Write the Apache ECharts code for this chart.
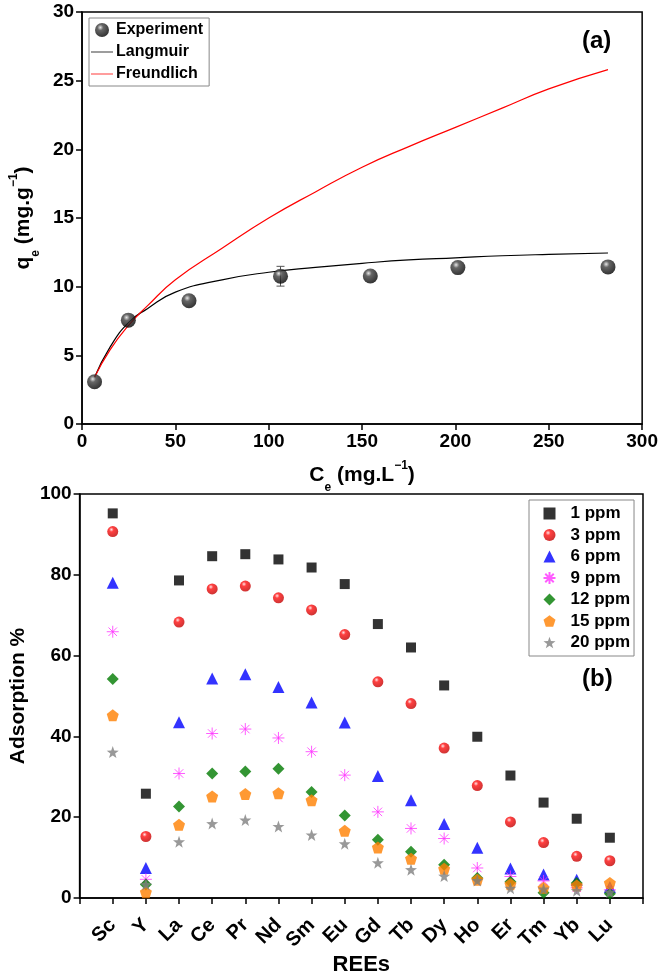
<!DOCTYPE html>
<html>
<head>
<meta charset="utf-8">
<title>Adsorption isotherms and REE adsorption</title>
<script src="https://cdn.jsdelivr.net/npm/echarts@6/dist/echarts.min.js"></script>
<style>
  html, body { margin: 0; padding: 0; background: #fff; }
  #main { width: 661px; height: 977px; }
</style>
</head>
<body>
<div id="main"></div>
<script>
// ---- (a) isotherm data ----
var ceExp = [6.7, 24.8, 57.3, 106.3, 154.4, 201.3, 281.7];
var qeExp = [3.08, 7.56, 8.97, 10.76, 10.78, 11.39, 11.44];
var errBar = [[106.3, 10.04, 11.48]];   // Ce, low, high
var ceFit = [6.7, 15, 25, 35, 50, 75, 100, 125, 150, 175, 200, 225, 250, 281.7];
var langmuir = [3.4, 5.6, 7.4, 8.4, 9.6, 10.5, 11.05, 11.4, 11.7, 11.95, 12.1, 12.25, 12.35, 12.45];
var freundlich = [3.4, 5.4, 7.2, 8.6, 10.5, 12.8, 15.0, 16.9, 18.7, 20.2, 21.6, 23.0, 24.4, 25.8];

// ---- (b) adsorption % per REE ----
var rees = ['Sc', 'Y', 'La', 'Ce', 'Pr', 'Nd', 'Sm', 'Eu', 'Gd', 'Tb', 'Dy', 'Ho', 'Er', 'Tm', 'Yb', 'Lu'];
var ppm1  = [95.2, 25.8, 78.6, 84.6, 85.1, 83.8, 81.8, 77.7, 67.8, 62.0, 52.6, 39.9, 30.3, 23.6, 19.6, 14.9];
var ppm3  = [90.7, 15.2, 68.3, 76.5, 77.2, 74.3, 71.3, 65.2, 53.5, 48.1, 37.1, 27.8, 18.8, 13.7, 10.3, 9.2];
var ppm6  = [78.0, 7.4, 43.5, 54.3, 55.4, 52.2, 48.4, 43.4, 30.2, 24.2, 18.3, 12.4, 7.3, 5.8, 4.5, 2.7];
var ppm9  = [65.9, 4.6, 30.8, 40.7, 41.8, 39.6, 36.2, 30.4, 21.3, 17.2, 14.7, 7.4, 5.3, 4.2, 2.5, 2.0];
var ppm12 = [54.2, 3.3, 22.6, 30.8, 31.3, 32.0, 26.2, 20.4, 14.4, 11.4, 8.2, 4.9, 4.0, 1.3, 3.7, 1.0];
var ppm15 = [45.2, 1.4, 18.1, 25.1, 25.7, 25.9, 24.2, 16.6, 12.5, 9.7, 7.2, 4.5, 3.4, 2.5, 3.1, 3.7];
var ppm20 = [36.1, 3.3, 13.9, 18.4, 19.3, 17.7, 15.6, 13.4, 8.7, 7.0, 5.4, 4.3, 2.4, 2.2, 1.8, 1.4];

var FONT = "'Liberation Sans', Arial, sans-serif";

function pairs(xs, ys) {
    return ys.map(function (v, i) { return [xs[i], v]; });
}
function reePts(vals) {
    return vals.map(function (v, i) { return [i + 1, v]; });
}
function sphere(light, mid, dark) {
    return {
        type: 'radial', x: 0.38, y: 0.32, r: 0.7,
        colorStops: [{ offset: 0, color: light }, { offset: 0.3, color: mid }, { offset: 1, color: dark }]
    };
}

var PENTAGON = 'path://M0,-10L9.51,-3.09L5.88,8.09L-5.88,8.09L-9.51,-3.09Z';
var STAR = 'path://M0,-10L2.35,-3.24L9.51,-3.09L3.8,1.24L5.88,8.09L0,4L-5.88,8.09L-3.8,1.24L-9.51,-3.09L-2.35,-3.24Z';
var ASTER = 'path://M0,-10L0,10M-10,0L10,0M-7.07,-7.07L7.07,7.07M-7.07,7.07L7.07,-7.07';
var LINEICON = 'path://M0,0L40,0L40,1.4L0,1.4Z';

var axisLine = { show: true, onZero: false, lineStyle: { color: '#000', width: 1.5 } };
var axisTick = { show: true, inside: false, length: 6, lineStyle: { color: '#000', width: 1.5 } };
var tickLabel = { color: '#000', fontWeight: 'bold', fontSize: 19, fontFamily: FONT };
var nameRich = {
    b: { fontSize: 21, fontWeight: 'bold', fontFamily: FONT, color: '#000', lineHeight: 26 },
    sub: { fontSize: 12, fontWeight: 'bold', fontFamily: FONT, color: '#000', verticalAlign: 'bottom', lineHeight: 12, padding: [0, 0, -6, 0] },
    sup: { fontSize: 12, fontWeight: 'bold', fontFamily: FONT, color: '#000', verticalAlign: 'top', lineHeight: 12, padding: [-2, 0, 0, 0] }
};

var myChart = echarts.init(document.getElementById('main'));

var option = {
    backgroundColor: '#fff',
    animation: false,
    grid: [
        { left: 77, right: 18, top: 12, height: 412, show: true, borderColor: '#000', borderWidth: 1.5 },
        { left: 77, right: 18, top: 494, height: 414, show: true, borderColor: '#000', borderWidth: 1.5 }
    ],
    legend: [
        {
            data: [
                { name: 'Experiment' },
                { name: 'Langmuir', icon: LINEICON, itemStyle: { color: '#000' } },
                { name: 'Freundlich', icon: LINEICON, itemStyle: { color: '#ff0000' } }
            ],
            left: 89, top: 18, orient: 'vertical',
            itemWidth: 22, itemHeight: 14, itemGap: 6,
            padding: [4, 6, 4, 2],
            borderColor: '#888', borderWidth: 1,
            textStyle: { color: '#000', fontWeight: 'bold', fontSize: 16, fontFamily: FONT, padding: [0, 0, 0, -2] }
        },
        {
            data: ['1 ppm', '3 ppm', '6 ppm', '9 ppm', '12 ppm', '15 ppm', '20 ppm'],
            left: 529, top: 500, orient: 'vertical',
            itemWidth: 12, itemHeight: 12, itemGap: 4.5,
            padding: [5, 4, 5, 12],
            borderColor: '#888', borderWidth: 1,
            textStyle: { color: '#000', fontWeight: 'bold', fontSize: 17, fontFamily: FONT, padding: [0, 0, 0, 10] }
        }
    ],
    graphic: [
        { type: 'text', left: 582, top: 29, style: { text: '(a)', font: 'bold 24px ' + FONT, fill: '#000' } },
        { type: 'text', left: 582, top: 667, style: { text: '(b)', font: 'bold 24px ' + FONT, fill: '#000' } }
    ],
    xAxis: [
        {
            gridIndex: 0, type: 'value', min: 0, max: 300, interval: 50,
            axisLine: axisLine, axisTick: axisTick, splitLine: { show: false },
            axisLabel: Object.assign({ margin: 8 }, tickLabel),
            name: '{b|C}{sub|e}{b| (mg.L}{sup|−1}{b|)}',
            nameLocation: 'middle', nameGap: 38,
            nameTextStyle: { rich: nameRich }
        },
        {
            gridIndex: 1, type: 'value', min: 0, max: 17, interval: 1,
            axisLine: axisLine, axisTick: axisTick, splitLine: { show: false },
            axisLabel: Object.assign({}, tickLabel, {
                rotate: 45, margin: 24, fontSize: 20,
                formatter: function (v) { return rees[v - 1] || ''; }
            }),
            name: 'REEs', nameLocation: 'middle', nameGap: 56,
            nameTextStyle: { fontSize: 22, fontWeight: 'bold', fontFamily: FONT, color: '#000' }
        }
    ],
    yAxis: [
        {
            gridIndex: 0, type: 'value', min: 0, max: 30, interval: 5,
            axisLine: axisLine, axisTick: axisTick, splitLine: { show: false },
            axisLabel: Object.assign({ margin: 8 }, tickLabel),
            name: '{b|q}{sub|e}{b| (mg.g}{sup|−1}{b|)}',
            nameLocation: 'middle', nameGap: 46,
            nameTextStyle: { rich: nameRich }
        },
        {
            gridIndex: 1, type: 'value', min: 0, max: 100, interval: 20,
            axisLine: axisLine, axisTick: axisTick, splitLine: { show: false },
            axisLabel: Object.assign({ margin: 8 }, tickLabel),
            name: 'Adsorption %', nameLocation: 'middle', nameGap: 46,
            nameTextStyle: { fontSize: 21, fontWeight: 'bold', fontFamily: FONT, color: '#000' }
        }
    ],
    series: [
        {
            name: 'Langmuir', type: 'line', xAxisIndex: 0, yAxisIndex: 0,
            data: pairs(ceFit, langmuir), smooth: true, symbol: 'none',
            lineStyle: { color: '#000', width: 1.2 }, itemStyle: { color: '#000' }, z: 2
        },
        {
            name: 'Freundlich', type: 'line', xAxisIndex: 0, yAxisIndex: 0,
            data: pairs(ceFit, freundlich), smooth: true, symbol: 'none',
            lineStyle: { color: '#ff0000', width: 1.2 }, itemStyle: { color: '#ff0000' }, z: 2
        },
        {
            name: 'errbar', type: 'custom', xAxisIndex: 0, yAxisIndex: 0, data: errBar, z: 3,
            renderItem: function (params, api) {
                var lo = api.coord([api.value(0), api.value(1)]);
                var hi = api.coord([api.value(0), api.value(2)]);
                var st = { stroke: '#555', lineWidth: 1 };
                return {
                    type: 'group', children: [
                        { type: 'line', shape: { x1: lo[0], y1: lo[1], x2: hi[0], y2: hi[1] }, style: st },
                        { type: 'line', shape: { x1: lo[0] - 4, y1: lo[1], x2: lo[0] + 4, y2: lo[1] }, style: st },
                        { type: 'line', shape: { x1: hi[0] - 4, y1: hi[1], x2: hi[0] + 4, y2: hi[1] }, style: st }
                    ]
                };
            }
        },
        {
            name: 'Experiment', type: 'scatter', xAxisIndex: 0, yAxisIndex: 0,
            data: pairs(ceExp, qeExp), symbol: 'circle', symbolSize: 15, z: 5,
            itemStyle: { color: sphere('#e0e0e0', '#404040', '#000') }
        },
        {
            name: '1 ppm', type: 'scatter', xAxisIndex: 1, yAxisIndex: 1, data: reePts(ppm1),
            symbol: 'rect', symbolSize: 10, itemStyle: { color: '#000' }
        },
        {
            name: '3 ppm', type: 'scatter', xAxisIndex: 1, yAxisIndex: 1, data: reePts(ppm3),
            symbol: 'circle', symbolSize: 11, itemStyle: { color: sphere('#ffe0e0', '#ff1010', '#c00000') }
        },
        {
            name: '6 ppm', type: 'scatter', xAxisIndex: 1, yAxisIndex: 1, data: reePts(ppm6),
            symbol: 'triangle', symbolSize: 12, itemStyle: { color: '#0000ff' }
        },
        {
            name: '9 ppm', type: 'scatter', xAxisIndex: 1, yAxisIndex: 1, data: reePts(ppm9),
            symbol: ASTER, symbolSize: 12,
            itemStyle: { color: 'none', borderColor: '#ff33ff', borderWidth: 1 }
        },
        {
            name: '12 ppm', type: 'scatter', xAxisIndex: 1, yAxisIndex: 1, data: reePts(ppm12),
            symbol: 'diamond', symbolSize: 12, itemStyle: { color: '#007a00' }
        },
        {
            name: '15 ppm', type: 'scatter', xAxisIndex: 1, yAxisIndex: 1, data: reePts(ppm15),
            symbol: PENTAGON, symbolSize: 12, itemStyle: { color: '#ff8000' }
        },
        {
            name: '20 ppm', type: 'scatter', xAxisIndex: 1, yAxisIndex: 1, data: reePts(ppm20),
            symbol: STAR, symbolSize: 12, itemStyle: { color: '#808080' }
        }
    ]
};

myChart.setOption(option);
</script>
</body>
</html>
